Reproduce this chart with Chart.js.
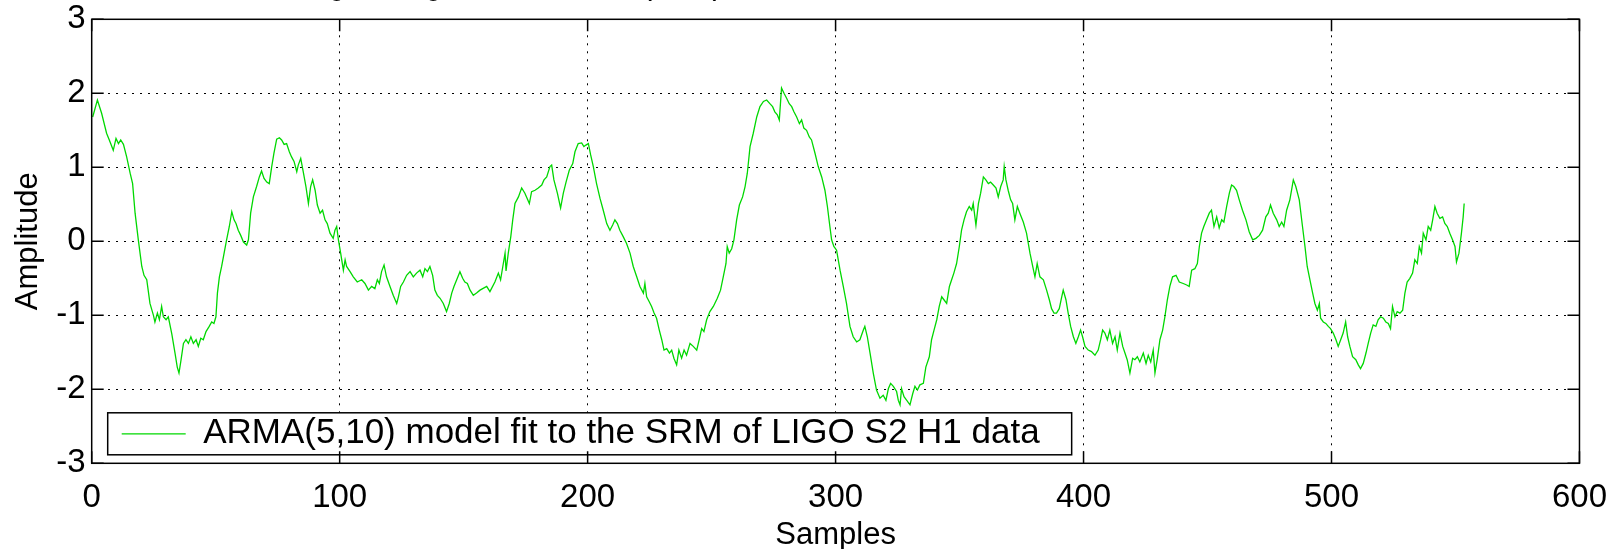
<!DOCTYPE html>
<html><head><meta charset="utf-8">
<script src="https://cdn.jsdelivr.net/npm/chart.js@4.4.1/dist/chart.umd.min.js"></script>
<style>
html,body{margin:0;padding:0;background:#fff;overflow:hidden;width:1622px;height:549px;}
#wrap{position:absolute;left:0;top:-34px;width:1622px;height:588px;}
</style></head><body>
<div id="wrap"><canvas id="c"></canvas></div>
<script>
const chartTitle = 'Original signal and ARMA(5,10) model fit to the SRM of LIGO S2 H1 data';
const seriesLabel = 'ARMA(5,10) model fit to the SRM of LIGO S2 H1 data';
const xAxisTitle = 'Samples';
const yAxisTitle = 'Amplitude';
const xTickValues = [0, 100, 200, 300, 400, 500, 600];
const yTickValues = [-3, -2, -1, 0, 1, 2, 3];

const samples = [
0.4,2.3,4,6,7.1,8.7,9.8,10.8,11.7,12.8,14.1,15.5,16.5,17.5,18.8,20.2,21.1,22.2,23.5,24.9,25.5,26.5,27.3,28.2,28.9,30,30.9,32.3,33.6,34.5,35.2,36,37,38,39,40,41,42.1,43,44,45,46.1,47.4,48.4,49.3,50.1,50.7,51.5,52.4,53.4,54.4,55.5,56.5,57.4,58.2,59.1,60.1,61.2,62.5,63.2,64.1,65.2,66.5,67.6,68.5,69.5,70.6,71.6,72.6,73.5,74.6,75.7,76.6,77.6,78.6,79.7,80.6,81.6,82.7,83.3,84.3,85.3,86.4,87.4,88.3,89.1,90.1,91,92.1,93.1,94.1,95,96.1,97.4,98.1,98.8,99.5,100.4,101.5,102.2,102.8,104.2,105.5,107.1,108.9,110.2,111.6,112.9,114.2,115.2,116,116.9,117.9,118.9,120.3,121.6,123,123.7,124.6,125.7,127,128.4,129.7,131,132.4,133.5,134.4,135.4,136.4,137.5,138.4,139.4,140.5,141.8,143.1,144.2,145.2,146.1,147.2,148.5,149.6,150.5,151.5,152.6,153.9,155.2,
156.6,159.3,160.6,162.6,164,164.9,166,166.7,167.1,168,169,169.8,170.7,172.1,173.4,174.7,176.5,177.4,178.8,180.1,181.5,182.4,183.5,184.8,185.5,186.4,187.8,189.1,190.2,191.3,192.6,194,194.9,196.2,197.6,198.5,199.3,200.3,201.2,202.3,203.6,205,206.3,207.7,209,210.1,211,212,213,214.4,215.7,217.1,218.4,219.8,221.1,222.5,223.1,223.8,224.9,225.8,226.8,227.8,228.9,229.9,230.8,231.9,233,233.9,234.8,235.9,236.8,237.9,238.9,239.9,241.3,242.6,244,245,246,246.9,248,249.3,250.7,252.3,253.6,254.7,255.8,256.3,257.1,258.1,259,260.1,261.2,262.5,263.5,264.4,265.5,266.8,268.2,269.5,270.9,272.2,273.5,274.6,275.5,276.5,277.3,278.2,279.2,280.3,281.3,282.3,283.2,284.3,285.4,286.3,287.2,288.3,289.4,290.3,291.7,293,294.4,295.7,296.7,297.7,298.4,299.3,300.4,301.8,303.1,304.4,305.8,307.1,308.5,309.8,311.2,311.8,312.8,313.9,315.2,316.5,317.9,319.2,320.3,321.3,322.2,
323.3,324.6,325.3,326,326.6,327.6,328.7,330,331.1,332,333,334,335.4,336.4,337.8,338.7,339.7,340.8,341.8,342.8,343.7,344.8,345.9,346.8,347.7,348.8,349.9,350.8,351.8,352.8,353.9,354.9,355.5,356.6,357.6,358.5,359.6,360.6,361.6,362.5,363.6,364.7,365.6,366.6,367.6,368,368.7,369.6,370.6,371.4,372.3,373.3,374.3,375.7,377,378.4,379.5,380.4,381.3,382.4,383.8,385.1,386.2,387.1,388.1,389.1,390.2,391.2,391.8,392.9,393.8,394.8,395.9,396.9,397.9,398.8,399.6,400.6,401.9,403.2,404.6,405.9,406.9,407.7,408.6,409.6,410.6,411.7,412.7,413.6,414.7,415.8,416.7,417.6,418.7,419.8,420.7,421.7,422.7,424.1,425.2,426.1,427.1,428.1,428.8,429.7,430.8,431.9,432.8,433.8,434.8,435.9,437.3,438.6,440.2,441.6,442.6,443.6,444.9,445.9,446.7,447.6,448.5,449.6,450.7,451.6,452.6,453.7,454.7,455.7,456.6,457.7,458.8,459.7,460.6,461.7,462.8,464.1,465.5,466.8,468.2,469.5,470.9,472.2,473.5,474.5,475.4,476.5,477.9,478.9,479.9,480.8,481.9,483.2,484.6,485.6,487,
488.3,489.3,490.2,491.3,492.4,493.3,494.3,495.1,495.6,496.7,497.7,498.7,499.6,500.7,501.8,502.7,503.7,504.7,505.7,506.5,507.4,508.5,509.8,510.8,511.7,512.8,513.9,514.8,515.8,516.8,517.9,518.8,519.8,520.9,521.9,522.9,523.8,524.6,525.6,526.5,527.6,528.7,529.6,530.5,531.6,532.7,533.6,534.6,535.4,536.3,537,538.1,539,540,540.8,541.7,542.6,543.7,544.8,545.7,546.7,547.7,548.8,549.8,550.4,551.4,552.4,553.1,553.5
];
const amplitude = [
1.68,1.91,1.73,1.46,1.37,1.23,1.39,1.32,1.37,1.31,1.14,0.92,0.78,0.38,0.02,-0.34,-0.46,-0.52,-0.84,-1.00,-1.09,-0.97,-1.06,-0.88,-1.02,-1.06,-1.02,-1.25,-1.51,-1.70,-1.78,-1.61,-1.38,-1.33,-1.38,-1.29,-1.38,-1.33,-1.42,-1.31,-1.33,-1.22,-1.15,-1.09,-1.11,-1.02,-0.70,-0.48,-0.34,-0.16,0.02,0.20,0.40,0.29,0.24,0.15,0.08,-0.01,-0.05,0.02,0.38,0.60,0.74,0.87,0.95,0.85,0.80,0.78,1.01,1.19,1.38,1.40,1.37,1.31,1.32,1.21,1.14,1.08,0.94,1.03,1.12,0.94,0.74,0.51,0.74,0.83,0.69,0.49,0.38,0.42,0.29,0.24,0.11,0.04,0.15,0.20,0.02,-0.16,-0.39,-0.25,-0.34,-0.41,-0.48,-0.55,-0.52,-0.57,-0.66,-0.61,-0.64,-0.52,-0.57,-0.41,-0.32,-0.48,-0.61,-0.73,-0.84,-0.75,-0.61,-0.55,-0.46,-0.41,-0.48,-0.43,-0.39,-0.48,-0.37,-0.41,-0.34,-0.46,-0.66,-0.73,-0.77,-0.84,-0.95,-0.84,-0.70,-0.61,-0.52,-0.41,-0.50,-0.55,-0.57,-0.66,-0.73,-0.70,
-0.66,-0.61,-0.68,-0.55,-0.43,-0.52,-0.30,-0.16,-0.40,-0.16,0.06,0.29,0.51,0.60,0.72,0.65,0.51,0.67,0.69,0.72,0.76,0.83,0.87,1.01,1.03,0.83,0.65,0.45,0.65,0.80,0.96,1.05,1.21,1.32,1.33,1.28,1.30,1.32,1.17,1.01,0.78,0.58,0.42,0.24,0.15,0.22,0.29,0.24,0.15,0.06,-0.03,-0.16,-0.34,-0.48,-0.61,-0.70,-0.57,-0.75,-0.82,-0.88,-0.97,-1.04,-1.20,-1.33,-1.47,-1.45,-1.51,-1.47,-1.58,-1.67,-1.47,-1.58,-1.47,-1.54,-1.38,-1.42,-1.47,-1.33,-1.18,-1.22,-1.06,-0.95,-0.88,-0.77,-0.66,-0.48,-0.30,-0.07,-0.16,-0.10,0.02,0.29,0.49,0.60,0.74,0.92,1.28,1.46,1.68,1.82,1.89,1.91,1.86,1.82,1.75,1.71,1.64,2.07,2.00,1.93,1.86,1.82,1.75,1.68,1.59,1.64,1.53,1.50,1.41,1.37,1.19,1.01,0.87,0.69,0.47,0.20,0.02,-0.07,-0.12,-0.39,-0.61,-0.84,-1.15,-1.29,-1.36,-1.33,-1.20,-1.15,-1.29,-1.51,-1.78,-2.01,-2.12,-2.08,-2.15,-1.99,-1.92,
-1.96,-2.03,-2.15,-2.21,-1.99,-2.10,-2.15,-2.21,-2.06,-1.96,-2.01,-1.94,-1.92,-1.70,-1.56,-1.33,-1.20,-1.06,-0.88,-0.75,-0.79,-0.84,-0.61,-0.52,-0.43,-0.30,-0.07,0.15,0.29,0.40,0.47,0.42,0.51,0.22,0.51,0.65,0.87,0.83,0.78,0.80,0.76,0.72,0.60,0.74,0.83,1.01,0.83,0.69,0.56,0.51,0.29,0.47,0.38,0.26,0.11,-0.16,-0.34,-0.48,-0.30,-0.48,-0.52,-0.66,-0.79,-0.91,-0.97,-0.97,-0.91,-0.75,-0.66,-0.79,-0.97,-1.15,-1.29,-1.38,-1.29,-1.20,-1.29,-1.42,-1.47,-1.49,-1.54,-1.47,-1.33,-1.20,-1.24,-1.33,-1.20,-1.38,-1.29,-1.47,-1.24,-1.42,-1.51,-1.60,-1.78,-1.58,-1.60,-1.56,-1.63,-1.51,-1.65,-1.54,-1.63,-1.47,-1.78,-1.60,-1.33,-1.20,-1.02,-0.79,-0.61,-0.48,-0.46,-0.55,-0.57,-0.59,-0.61,-0.39,-0.37,-0.30,-0.07,0.11,0.20,0.29,0.38,0.42,0.20,0.33,0.18,0.29,0.26,0.47,0.65,0.76,0.74,0.69,0.56,0.42,0.29,0.13,0.02,0.04,0.08,0.15,0.33,0.38,0.49,0.38,0.29,0.20,0.26,0.20,0.42,0.56,0.83,0.74,0.56,
0.20,-0.07,-0.34,-0.52,-0.70,-0.84,-0.93,-0.84,-1.04,-1.09,-1.11,-1.15,-1.18,-1.24,-1.33,-1.42,-1.33,-1.24,-1.09,-1.29,-1.42,-1.56,-1.60,-1.67,-1.72,-1.65,-1.51,-1.38,-1.24,-1.13,-1.15,-1.06,-1.02,-1.04,-1.09,-1.11,-1.18,-0.88,-1.02,-0.95,-0.97,-0.93,-0.70,-0.55,-0.50,-0.43,-0.25,-0.30,-0.07,-0.16,0.11,0.02,0.20,0.15,0.29,0.47,0.38,0.31,0.33,0.24,0.20,0.11,0.02,-0.07,-0.28,-0.16,0.11,0.33,0.51
];

const FONT = "'Liberation Sans', Arial, Helvetica, sans-serif";
const points = samples.map((s, i) => ({x: s, y: amplitude[i]}));

const framePlugin = {
  id: 'matlabFrame',
  beforeUpdate(chart) {
    const lg = chart.legend;
    if (lg) lg._layers = () => [{z: 1, draw: (ca) => lg.draw(ca)}];
  },
  afterLayout(chart) {
    const lg = chart.legend;
    const a = chart.chartArea;
    if (lg) {
      lg.left = a.left + 20; lg.right = a.right + 20;
      lg.top = a.top; lg.bottom = a.bottom - 2;
    }
  },
  afterDatasetsDraw(chart) {
    const {ctx, chartArea: a, scales} = chart;
    ctx.save();
    const hb = chart.legend && chart.legend.legendHitBoxes && chart.legend.legendHitBoxes[0];
    if (hb) {
      const cy = hb.top + hb.height / 2;
      const l = hb.left - 14, r = hb.left + hb.width + 32;
      const t = cy - 21, b = cy + 21;
      ctx.fillStyle = '#fff';
      ctx.fillRect(l, t, r - l, b - t);
      ctx.strokeStyle = '#000';
      ctx.lineWidth = 1.5;
      ctx.strokeRect(l, t, r - l, b - t);
    }
    ctx.strokeStyle = '#000';
    ctx.lineWidth = 1.5;
    ctx.beginPath();
    scales.x.ticks.forEach(tk => {
      const px = scales.x.getPixelForValue(tk.value);
      ctx.moveTo(px, a.bottom); ctx.lineTo(px, a.bottom - 12);
      ctx.moveTo(px, a.top); ctx.lineTo(px, a.top + 12);
    });
    scales.y.ticks.forEach(tk => {
      const py = scales.y.getPixelForValue(tk.value);
      ctx.moveTo(a.left, py); ctx.lineTo(a.left + 12, py);
      ctx.moveTo(a.right, py); ctx.lineTo(a.right - 12, py);
    });
    ctx.stroke();
    ctx.strokeRect(a.left, a.top, a.right - a.left, a.bottom - a.top);
    ctx.restore();
  }
};

new Chart(document.getElementById('c'), {
  type: 'line',
  data: {
    datasets: [{
      label: seriesLabel,
      data: points,
      borderColor: '#00d800',
      backgroundColor: '#00d800',
      borderWidth: 1.3,
      pointRadius: 0,
      tension: 0,
      fill: false
    }]
  },
  options: {
    responsive: true,
    maintainAspectRatio: false,
    animation: false,
    devicePixelRatio: 1,
    layout: {padding: {left: 0, right: 42, top: 0, bottom: 0}},
    plugins: {
      title: {
        display: true,
        text: chartTitle,
        color: '#000',
        font: {family: FONT, size: 31, weight: 'normal'},
        padding: {top: 0.6, bottom: 15.5}
      },
      legend: {
        display: true,
        position: 'chartArea',
        align: 'end',
        labels: {
          usePointStyle: true,
          pointStyle: 'line',
          pointStyleWidth: 64,
          color: '#000',
          padding: 10,
          font: {family: FONT, size: 35}
        }
      },
      tooltip: {enabled: false}
    },
    scales: {
      x: {
        type: 'linear',
        min: 0, max: 600,
        afterBuildTicks: (s) => { s.ticks = xTickValues.map(v => ({value: v})); },
        afterFit: (s) => { s.height = 90.7; },
        grid: {color: '#000', lineWidth: 1, drawTicks: false},
        border: {display: false, dash: [2, 6]},
        ticks: {color: '#000', padding: 15, maxRotation: 0, font: {family: FONT, size: 33}},
        title: {display: true, text: xAxisTitle, color: '#000', font: {family: FONT, size: 31}, padding: {top: 0, bottom: 0}}
      },
      y: {
        type: 'linear',
        min: -3, max: 3,
        afterBuildTicks: (s) => { s.ticks = yTickValues.map(v => ({value: v})); },
        afterFit: (s) => { s.width = 91.7; },
        grid: {color: '#000', lineWidth: 1, drawTicks: false},
        border: {display: false, dash: [2, 6]},
        ticks: {color: '#000', padding: 6, font: {family: FONT, size: 33}},
        title: {display: true, text: yAxisTitle, color: '#000', font: {family: FONT, size: 31}, padding: {top: 10, bottom: 0}}
      }
    }
  },
  plugins: [framePlugin]
});
</script>
</body></html>
